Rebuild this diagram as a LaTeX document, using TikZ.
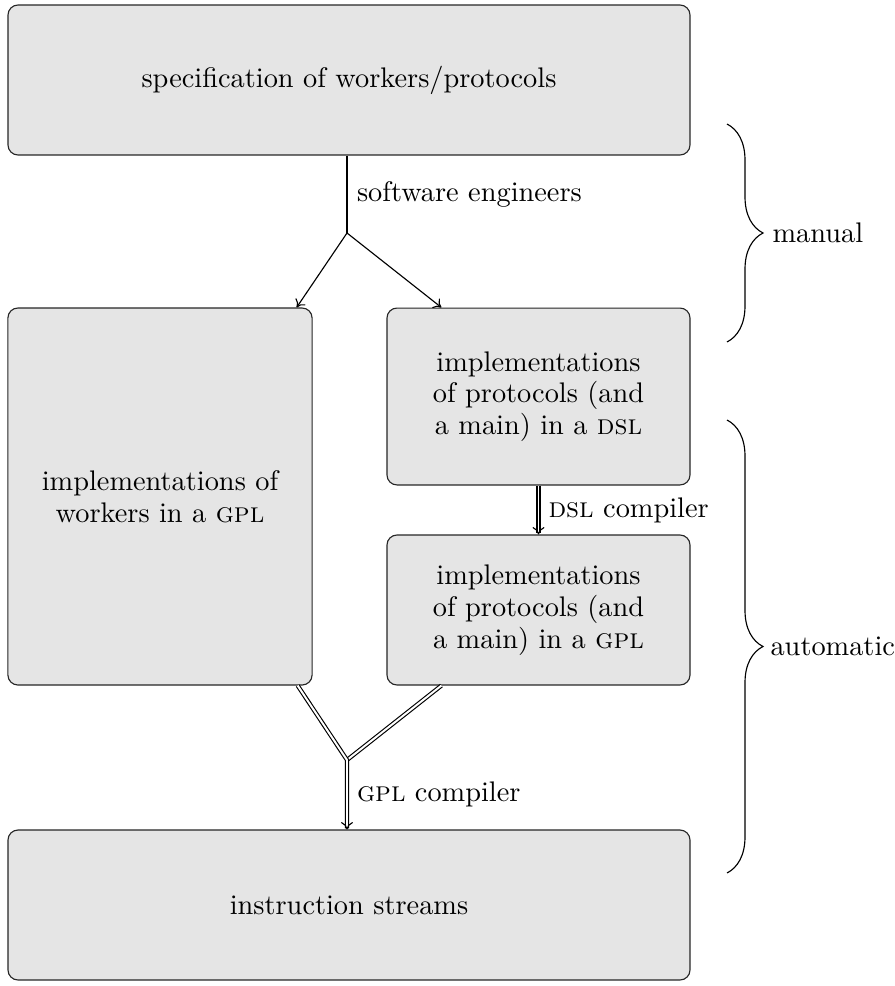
\documentclass[tikz,border=0pt]{standalone}
\usetikzlibrary{calc,decorations.pathreplacing,arrows.meta}
\begin{document}
\begin{tikzpicture}[x=0.3528pt,y=-0.3528pt,
  box/.style={draw=black!85, fill=black!10, rounded corners=3.5pt, align=center,
    font=\fontsize{10}{11.2}\selectfont, inner sep=0pt},
  lbl/.style={font=\fontsize{10}{11.2}\selectfont},
  tip/.style={-{To[line width=0.4pt, length=2.6pt, width=4.2pt]}},
  dbl/.style={double, double distance=0.7pt},
  bracestyle/.style={decorate, decoration={brace, amplitude=12.7pt, aspect=0.5}}]
\useasboundingbox (0,0) rectangle (895,986);

\node[box, minimum width=240.6pt, minimum height=52.9pt] (spec) at (349,80)
  {specification of workers/protocols};
\node[box, minimum width=107.3pt, minimum height=133pt] (workers) at (160,496.5)
  {implementations of\\workers in a \textsc{gpl}};
\node[box, minimum width=106.9pt, minimum height=62.4pt] (dsl) at (538.5,396.5)
  {implementations\\of protocols (and\\a main) in a \textsc{dsl}};
\node[box, minimum width=106.9pt, minimum height=52.9pt] (gplbox) at (538.5,610)
  {implementations\\of protocols (and\\a main) in a \textsc{gpl}};
\node[box, minimum width=240.6pt, minimum height=52.9pt] (instr) at (349,905)
  {instruction streams};

\coordinate (j1) at (347,233);
\coordinate (j2) at (347,760);

\draw (j1 |- spec.south) -- node[lbl, right] {software engineers} (j1);
\draw[tip] (j1) -- ($(workers.north east)+(-16,0)$);
\draw[tip] (j1) -- ($(dsl.north west)+(55,0)$);

\draw[dbl, tip] (dsl.south) -- node[lbl, right] {\textsc{dsl} compiler} (gplbox.north);

\draw[dbl] ($(gplbox.south west)+(55,0)$) -- (j2);
\draw[dbl, tip] ($(workers.south east)+(-15,0)$) -- (j2) -- node[lbl, right] {\textsc{gpl} compiler} (instr.north -| j2);

\draw[bracestyle] (727,124) -- (727,342);
\node[lbl, anchor=west, inner sep=0pt] (manual) at (772,233) {manual};
\draw[bracestyle] (727,420) -- (727,873);
\node[lbl, anchor=west, inner sep=0pt] (auto) at (770,646.5) {automatic};
\end{tikzpicture}
\end{document}
